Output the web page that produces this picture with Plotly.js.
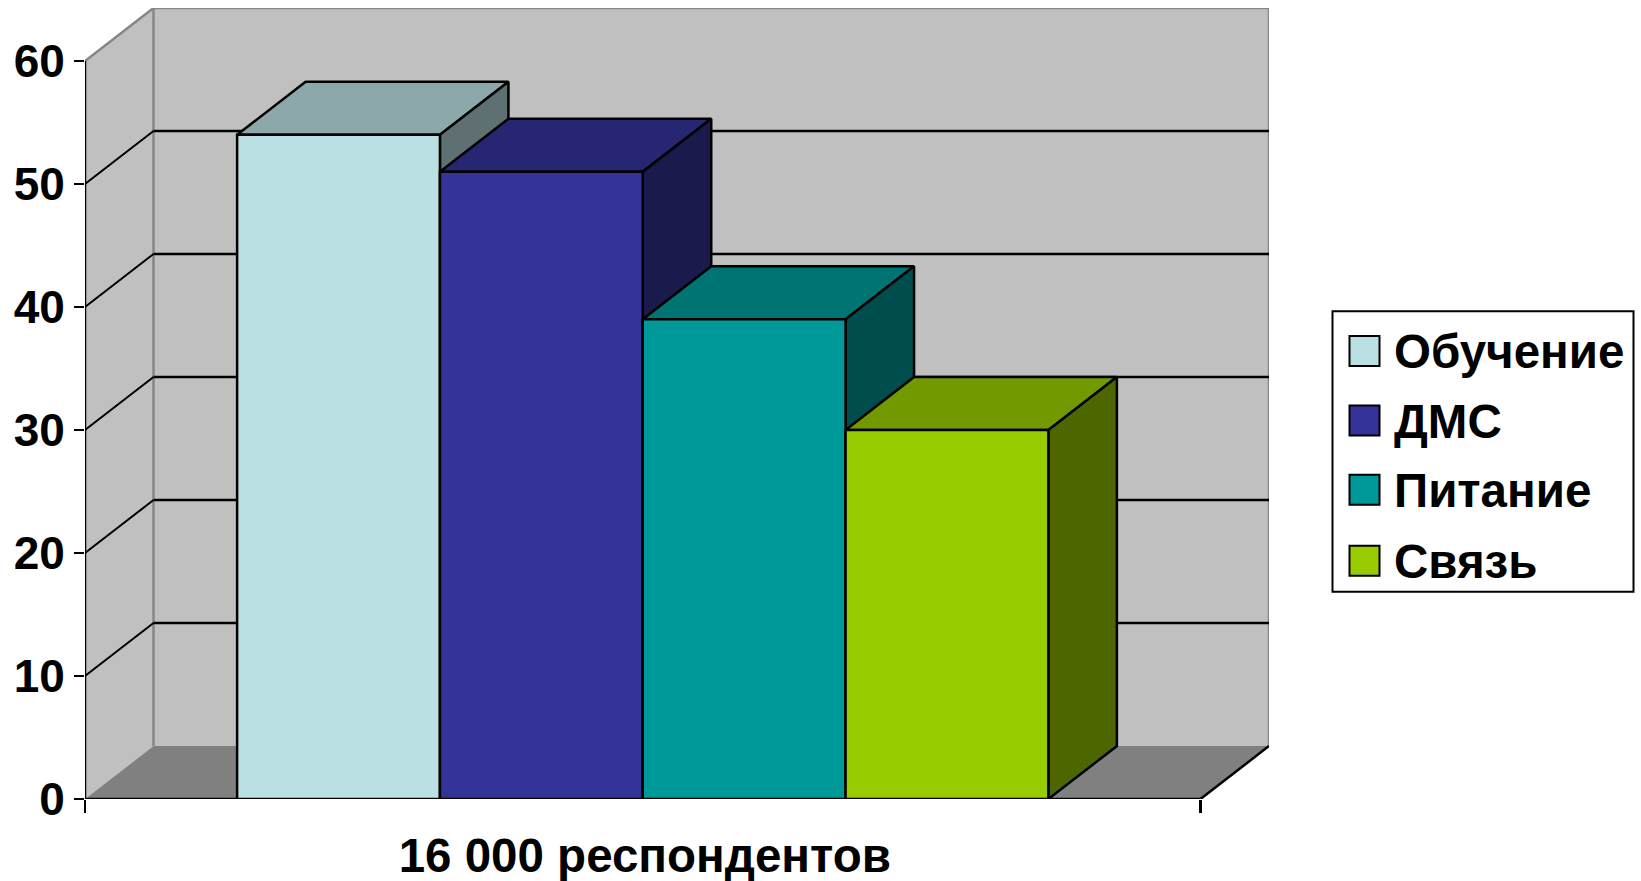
<!DOCTYPE html>
<html>
<head>
<meta charset="utf-8">
<script src="https://cdn.plot.ly/plotly-3.0.1.min.js"></script>
<style>html,body{margin:0;padding:0;background:#fff;overflow:hidden}</style>
</head>
<body>
<div id="chart"></div>
<script>
// Survey results: one category, four benefit types, drawn as a box-style 3D column chart
const categoryLabel = '16 000 респондентов';
const seriesNames = ['Обучение', 'ДМС', 'Питание', 'Связь'];
const seriesValues = [54, 51, 39, 30];
const frontColors = ['#BBE0E3', '#333399', '#009999', '#99CC00'];
const topColors = ['#8CA8AA', '#262673', '#007373', '#739900'];
const sideColors = ['#5E7071', '#1A1A4D', '#004D4D', '#4D6600'];
const yTicks = [0, 10, 20, 30, 40, 50, 60];

const FONT = '"Liberation Sans", Arial, sans-serif';
const WIDTH = 1641, HEIGHT = 881;

// Pixel frame of the front plane and of the receding depth
const frontLeft = 85, frontRight = 1200.5, baseY = 799, topY = 60.6;
const depthPx = {x: 68.5, y: 53};
const unitX = frontRight - frontLeft;
const unitY = (baseY - topY) / 60;
const depthX = depthPx.x / unitX;
const depthY = depthPx.y / unitY;
const yMax = yTicks[yTicks.length - 1];

const margin = {l: frontLeft, r: WIDTH - frontRight - depthPx.x, t: baseY - (yMax + depthY) * unitY, b: HEIGHT - baseY};

// Gap of 150% of a column width, split to both sides of the column group
const barWidth = 1 / (seriesValues.length + 1.5);
const groupLeft = barWidth * 0.75;

const traces = [];
function poly(xs, ys, fill, lineColor, lineWidth) {
  traces.push({
    type: 'scatter', mode: lineColor ? 'lines' : 'none',
    x: xs.concat(xs[0]), y: ys.concat(ys[0]),
    fill: 'toself', fillcolor: fill,
    line: {color: lineColor || fill, width: lineWidth || 0, simplify: false},
    hoverinfo: 'skip', showlegend: false, cliponaxis: false
  });
}
function segment(xs, ys, color, width) {
  traces.push({
    type: 'scatter', mode: 'lines', x: xs, y: ys,
    line: {color: color, width: width, simplify: false},
    hoverinfo: 'skip', showlegend: false, cliponaxis: false
  });
}

// Left wall, back wall, floor
poly([0, depthX, depthX, 0], [0, depthY, yMax + depthY, yMax], '#C0C0C0');
poly([depthX, 1 + depthX, 1 + depthX, depthX], [depthY, depthY, yMax + depthY, yMax + depthY], '#C0C0C0');
poly([0, 1, 1 + depthX, depthX], [0, 0, depthY, depthY], '#808080');

// Grey outline of the walls
segment([0, depthX, 1 + depthX, 1 + depthX], [yMax, yMax + depthY, yMax + depthY, depthY], '#868686', 2.5);
segment([depthX, depthX], [depthY, yMax + depthY], '#868686', 2.5);

// Gridlines run along the back wall and down the left wall
yTicks.filter(v => v > 0 && v < yMax).forEach(v => {
  segment([0, depthX], [v, v + depthY], '#000000', 2);
  segment([depthX, 1 + depthX], [v + depthY, v + depthY], '#000000', 2.5);
});

// Floor edge and front axes
segment([1, 1 + depthX], [0, depthY], '#000000', 2.5);
segment([0, 1], [0, 0], '#000000', 2.5);
segment([0, 0], [0, yMax], '#000000', 2.5);

// Columns go left to right so each one covers the side of the previous one
seriesValues.forEach((value, i) => {
  const l = groupLeft + i * barWidth, r = l + barWidth;
  poly([l, r, r + depthX, l + depthX], [value, value, value + depthY, value + depthY], topColors[i], '#000000', 2.5);
  poly([r, r + depthX, r + depthX, r], [0, depthY, value + depthY, value], sideColors[i], '#000000', 2.5);
  poly([l, r, r, l], [0, 0, value, value], frontColors[i], '#000000', 2.5);
});

// Legend box, laid out in page pixels and converted to paper coordinates
const plotW = WIDTH - margin.l - margin.r, plotH = HEIGHT - margin.t - margin.b;
const px = x => (x - margin.l) / plotW;
const py = y => 1 - (y - margin.t) / plotH;
const legendRows = [350.7, 420.3, 489.5, 560.7];
const swatch = 15;
const shapes = [{
  type: 'rect', xref: 'paper', yref: 'paper',
  x0: px(1332.5), x1: px(1633.5), y0: py(311), y1: py(591.7),
  line: {color: '#000000', width: 2}, fillcolor: '#FFFFFF'
}];
const annotations = [];
seriesNames.forEach((name, i) => {
  shapes.push({
    type: 'rect', xref: 'paper', yref: 'paper',
    x0: px(1349.5), x1: px(1349.5 + 2 * swatch),
    y0: py(legendRows[i] + swatch), y1: py(legendRows[i] - swatch),
    line: {color: '#000000', width: 2}, fillcolor: frontColors[i]
  });
  annotations.push({
    xref: 'paper', yref: 'paper', x: px(1391.5), y: py(legendRows[i] + 1),
    xanchor: 'left', yanchor: 'middle', showarrow: false, text: name,
    font: {family: FONT, size: 47.5, color: '#000000', weight: 700}
  });
});

const layout = {
  width: WIDTH, height: HEIGHT, autosize: false,
  margin: {l: margin.l, r: margin.r, t: margin.t, b: margin.b, pad: 0},
  paper_bgcolor: '#FFFFFF', plot_bgcolor: '#FFFFFF',
  showlegend: false,
  shapes: shapes, annotations: annotations,
  xaxis: {
    type: 'linear', range: [0, 1 + depthX], fixedrange: true,
    showgrid: false, zeroline: false, showline: false,
    tickmode: 'array', tickvals: [0.5], ticktext: [categoryLabel], ticks: '',
    tickfont: {family: FONT, size: 47.5, color: '#000000', weight: 700},
    ticklabelstandoff: 24, ticklabelshift: 2,
    minor: {tickmode: 'array', tickvals: [0, 1], ticks: 'outside', ticklen: 13, tickwidth: 2.5, tickcolor: '#000000', showgrid: false}
  },
  yaxis: {
    type: 'linear', range: [0, yMax + depthY], fixedrange: true,
    showgrid: false, zeroline: false, showline: false,
    tickmode: 'array', tickvals: yTicks, ticktext: yTicks.map(String),
    ticks: 'outside', ticklen: 10, tickwidth: 2.5, tickcolor: '#000000',
    tickfont: {family: FONT, size: 46, color: '#000000', weight: 700}
  }
};

Plotly.newPlot('chart', traces, layout, {displayModeBar: false, staticPlot: true});
</script>
</body>
</html>
